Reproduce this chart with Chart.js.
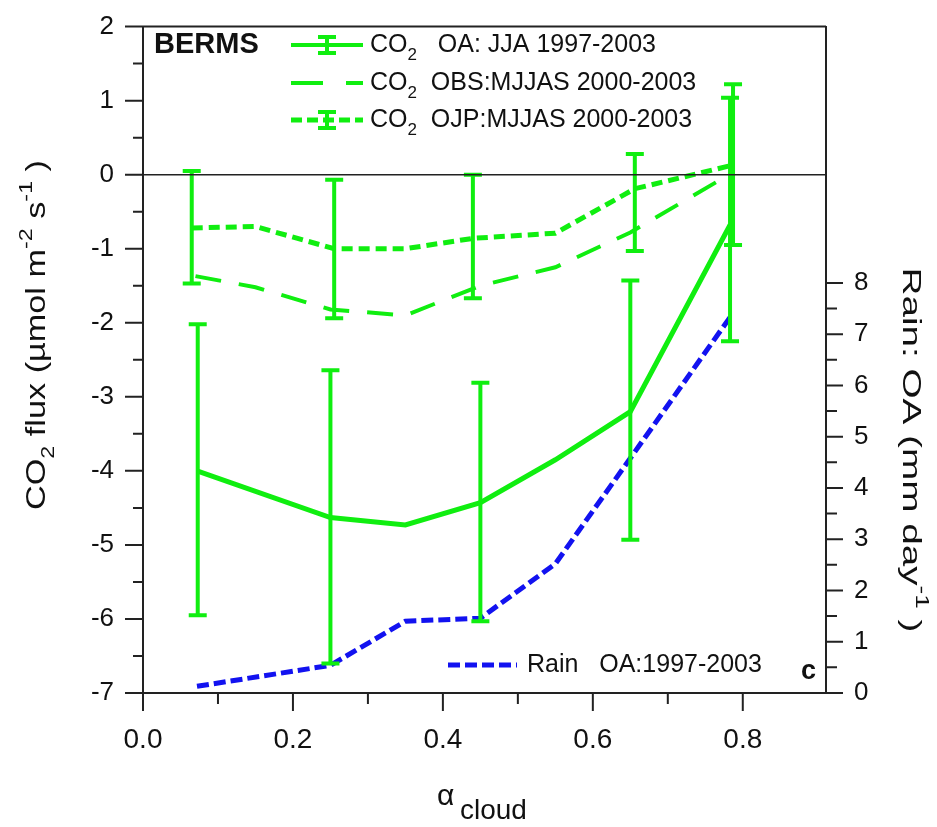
<!DOCTYPE html>
<html lang="en">
<head>
<meta charset="UTF-8">
<title>BERMS CO2 flux vs cloud fraction</title>
<script src="https://cdn.jsdelivr.net/npm/chart.js"></script>
<style>
  body { margin: 0; background: #fff; }
  canvas { display: block; }
</style>
</head>
<body>
<canvas id="chart" width="937" height="827"></canvas>
<script>
// --- data ---
const cloudOA = [0.072, 0.25, 0.35, 0.45, 0.55, 0.65, 0.783];
const fluxOA = [-4.0, -4.63, -4.73, -4.43, -3.85, -3.2, -0.68];
const barXOA = [0.073, 0.25, 0.45, 0.65, 0.783];
const barLowOA = [-5.95, -6.6, -6.03, -4.93, -2.25];
const barHighOA = [-2.02, -2.64, -2.81, -1.43, 1.04];

const cloudObs = [0.07, 0.15, 0.25, 0.35, 0.45, 0.55, 0.65, 0.785];
const fluxObs = [-1.37, -1.52, -1.82, -1.9, -1.5, -1.25, -0.78, 0.02];

const cloudOjp = [0.065, 0.15, 0.255, 0.35, 0.44, 0.55, 0.656, 0.787];
const fluxOjp = [-0.72, -0.7, -1.0, -1.0, -0.86, -0.79, -0.19, 0.13];
const barXOjp = [0.065, 0.255, 0.44, 0.656, 0.787];
const barLowOjp = [-1.47, -1.94, -1.67, -1.03, -0.95];
const barHighOjp = [0.05, -0.07, 0.0, 0.28, 1.22];

const cloudRain = [0.072, 0.25, 0.35, 0.45, 0.55, 0.65, 0.785];
const rainOA = [0.13, 0.54, 1.4, 1.46, 2.52, 4.58, 7.37];

const xTickLabels = ['0.0', '0.2', '0.4', '0.6', '0.8'];
const yTickLabels = ['-7', '-6', '-5', '-4', '-3', '-2', '-1', '0', '1', '2'];
const rainTickLabels = ['0', '1', '2', '3', '4', '5', '6', '7', '8'];

const GREEN = '#10ee10';
const BLUE = '#1212f0';
const FONT = "'Liberation Sans', Arial, sans-serif";
const INK = '#111';

function pts(xs, ys) {
    return xs.map((x, i) => ({ x: x, y: ys[i] }));
}

// text made of normal / sub / sup pieces
function richWidth(ctx, segs, size) {
    let w = 0;
    segs.forEach(s => {
        const fs = s.k ? size * 0.68 : size;
        ctx.font = (s.bold ? 'bold ' : '') + fs + 'px ' + FONT;
        w += ctx.measureText(s.t).width;
    });
    return w;
}
function drawRich(ctx, segs, x, y, size) {
    ctx.textBaseline = 'middle';
    ctx.textAlign = 'left';
    segs.forEach(s => {
        const fs = s.k ? size * 0.68 : size;
        ctx.font = (s.bold ? 'bold ' : '') + fs + 'px ' + FONT;
        let dy = 0;
        if (s.k === 'sub') dy = size * 0.4;
        if (s.k === 'sup') dy = -size * 0.42;
        ctx.fillText(s.t, x, y + dy);
        x += ctx.measureText(s.t).width;
    });
    return x;
}
function drawTitle(ctx, segs, cx, cy, size, angle, length) {
    const w = richWidth(ctx, segs, size);
    const stretch = length / w;
    ctx.save();
    ctx.translate(cx, cy);
    ctx.rotate(angle);
    ctx.scale(stretch, 1);
    ctx.fillStyle = INK;
    drawRich(ctx, segs, -w / 2, 0, size);
    ctx.restore();
}

function errorBar(ctx, x, yTop, yBot, cap) {
    ctx.beginPath();
    ctx.moveTo(x, yTop); ctx.lineTo(x, yBot);
    ctx.moveTo(x - cap / 2, yTop); ctx.lineTo(x + cap / 2, yTop);
    ctx.moveTo(x - cap / 2, yBot); ctx.lineTo(x + cap / 2, yBot);
    ctx.stroke();
}

function isLabel(list, v, digits) {
    const s = v.toFixed(digits);
    return list.indexOf(s === '-0' ? '0' : s) >= 0;
}

const figurePlugin = {
    id: 'figure',
    afterDatasetsDraw(chart) {
        const ctx = chart.ctx;
        const sx = chart.scales.x, sy = chart.scales.y;
        ctx.save();
        ctx.strokeStyle = GREEN;
        ctx.lineWidth = 4;
        ctx.setLineDash([]);
        barXOA.forEach((x, i) => {
            errorBar(ctx, sx.getPixelForValue(x), sy.getPixelForValue(barHighOA[i]), sy.getPixelForValue(barLowOA[i]), 18);
        });
        barXOjp.forEach((x, i) => {
            errorBar(ctx, sx.getPixelForValue(x), sy.getPixelForValue(barHighOjp[i]), sy.getPixelForValue(barLowOjp[i]), 18);
        });
        ctx.restore();
    },
    afterDraw(chart) {
        const ctx = chart.ctx;
        const a = chart.chartArea;
        const sx = chart.scales.x, sy = chart.scales.y, sr = chart.scales.y2;
        ctx.save();
        ctx.strokeStyle = '#222';
        ctx.lineWidth = 2;
        ctx.setLineDash([]);
        // frame top + zero line
        ctx.beginPath();
        ctx.moveTo(a.left, a.top); ctx.lineTo(a.right, a.top);
        ctx.stroke();
        ctx.lineWidth = 1.5;
        ctx.beginPath();
        const y0 = sy.getPixelForValue(0);
        ctx.moveTo(a.left, y0); ctx.lineTo(a.right, y0);
        ctx.stroke();

        // tick marks, pointing outward
        ctx.lineWidth = 2;
        ctx.beginPath();
        sx.ticks.forEach(t => {
            const v = t.value;
            if (Math.abs(v * 10 - Math.round(v * 10)) > 1e-6) return;
            const len = isLabel(xTickLabels, v, 1) ? 18 : 11;
            const px = sx.getPixelForValue(v);
            ctx.moveTo(px, a.bottom); ctx.lineTo(px, a.bottom + len);
        });
        sy.ticks.forEach(t => {
            const v = t.value;
            const len = Number.isInteger(v) ? 18 : 10;
            const py = sy.getPixelForValue(v);
            ctx.moveTo(a.left, py); ctx.lineTo(a.left - len, py);
        });
        sr.ticks.forEach(t => {
            const v = t.value;
            if (v > 8) return;
            const len = Number.isInteger(v) ? 17 : 11;
            const py = sr.getPixelForValue(v);
            ctx.moveTo(a.right, py); ctx.lineTo(a.right + len, py);
        });
        ctx.stroke();

        // axis titles
        drawTitle(ctx, [{ t: 'CO' }, { t: '2', k: 'sub' }, { t: ' flux (\u00b5mol m' }, { t: '-2', k: 'sup' },
            { t: ' s' }, { t: '-1', k: 'sup' }, { t: ' )' }], 38, 335, 27, -Math.PI / 2, 350);
        drawTitle(ctx, [{ t: 'Rain: OA (mm day' }, { t: '-1', k: 'sup' }, { t: ' )' }], 910, 450, 26, Math.PI / 2, 365);
        ctx.fillStyle = INK;
        ctx.textBaseline = 'middle';
        ctx.textAlign = 'left';
        ctx.font = '30px ' + FONT;
        ctx.fillText('\u03b1', 437, 797);
        ctx.font = '28px ' + FONT;
        ctx.fillText('cloud', 460, 811);

        // legend
        ctx.font = 'bold 29px ' + FONT;
        ctx.fillText('BERMS', 154, 45);
        const rows = [45, 83, 120];
        const lx0 = 291, lx1 = 363, lmid = 327;
        ctx.lineWidth = 4;
        ctx.strokeStyle = GREEN;
        // OA
        ctx.setLineDash([]);
        ctx.beginPath(); ctx.moveTo(lx0, rows[0]); ctx.lineTo(lx1, rows[0]); ctx.stroke();
        errorBar(ctx, lmid, rows[0] - 8, rows[0] + 8, 18);
        // OBS
        ctx.setLineDash([32, 23]);
        ctx.beginPath(); ctx.moveTo(lx0, rows[1]); ctx.lineTo(lx1, rows[1]); ctx.stroke();
        // OJP
        ctx.setLineDash([11, 5]);
        ctx.lineWidth = 5;
        ctx.beginPath(); ctx.moveTo(lx0, rows[2]); ctx.lineTo(lx1, rows[2]); ctx.stroke();
        ctx.setLineDash([]);
        ctx.lineWidth = 4;
        errorBar(ctx, lmid, rows[2] - 8, rows[2] + 8, 18);
        ctx.fillStyle = INK;
        const legendText = [
            [{ t: 'CO' }, { t: '2', k: 'sub' }, { t: '   OA: JJA 1997-2003' }],
            [{ t: 'CO' }, { t: '2', k: 'sub' }, { t: '  OBS:MJJAS 2000-2003' }],
            [{ t: 'CO' }, { t: '2', k: 'sub' }, { t: '  OJP:MJJAS 2000-2003' }]
        ];
        legendText.forEach((segs, i) => drawRich(ctx, segs, 370, rows[i], 25));

        // rain legend
        ctx.strokeStyle = BLUE;
        ctx.lineWidth = 5;
        ctx.setLineDash([12, 5]);
        ctx.beginPath(); ctx.moveTo(448, 665); ctx.lineTo(517, 665); ctx.stroke();
        ctx.setLineDash([]);
        drawRich(ctx, [{ t: 'Rain   OA:1997-2003' }], 527, 665, 25);
        ctx.font = 'bold 27px ' + FONT;
        ctx.fillText('c', 801, 672);
        ctx.restore();
    }
};

const tickFont = { family: FONT, size: 26 };

new Chart(document.getElementById('chart'), {
    type: 'scatter',
    data: {
        datasets: [
            {
                label: 'Rain OA:1997-2003',
                data: pts(cloudRain, rainOA),
                yAxisID: 'y2',
                showLine: true,
                borderColor: BLUE,
                borderWidth: 5,
                borderDash: [12, 5],
                pointRadius: 0
            },
            {
                label: 'CO2 OBS:MJJAS 2000-2003',
                data: pts(cloudObs, fluxObs),
                yAxisID: 'y',
                showLine: true,
                borderColor: GREEN,
                borderWidth: 4,
                borderDash: [26, 18],
                pointRadius: 0
            },
            {
                label: 'CO2 OJP:MJJAS 2000-2003',
                data: pts(cloudOjp, fluxOjp),
                yAxisID: 'y',
                showLine: true,
                borderColor: GREEN,
                borderWidth: 5,
                borderDash: [11, 6],
                pointRadius: 0
            },
            {
                label: 'CO2 OA: JJA 1997-2003',
                data: pts(cloudOA, fluxOA),
                yAxisID: 'y',
                showLine: true,
                borderColor: GREEN,
                borderWidth: 5,
                pointRadius: 0
            }
        ]
    },
    options: {
        responsive: false,
        animation: false,
        layout: { padding: { top: 18, left: 0, right: 0, bottom: 0 } },
        plugins: { legend: { display: false }, tooltip: { enabled: false } },
        scales: {
            x: {
                type: 'linear',
                position: 'bottom',
                min: 0,
                max: 0.911,
                afterFit: s => { s.height = 134; },
                grid: { display: true, drawOnChartArea: false, drawTicks: true, tickLength: 18, tickColor: 'rgba(0,0,0,0)' },
                border: { display: true, color: '#222', width: 2 },
                ticks: {
                    stepSize: 0.1,
                    autoSkip: false,
                    maxRotation: 0,
                    padding: 12,
                    color: INK,
                    font: { family: FONT, size: 28 },
                    callback: v => isLabel(xTickLabels, v, 1) ? v.toFixed(1) : ''
                }
            },
            y: {
                type: 'linear',
                position: 'left',
                min: -7,
                max: 2,
                afterFit: s => { s.width = 143; },
                grid: { display: true, drawOnChartArea: false, drawTicks: true, tickLength: 18, tickColor: 'rgba(0,0,0,0)' },
                border: { display: true, color: '#222', width: 2 },
                ticks: {
                    stepSize: 0.5,
                    autoSkip: false,
                    padding: 11,
                    color: INK,
                    font: tickFont,
                    callback: v => Number.isInteger(v) && isLabel(yTickLabels, v, 0) ? String(v) : ''
                }
            },
            y2: {
                type: 'linear',
                position: 'right',
                min: 0,
                max: 13,
                afterFit: s => { s.width = 111; },
                grid: { display: true, drawOnChartArea: false, drawTicks: true, tickLength: 17, tickColor: 'rgba(0,0,0,0)' },
                border: { display: true, color: '#222', width: 2 },
                ticks: {
                    stepSize: 0.5,
                    autoSkip: false,
                    padding: 11,
                    color: INK,
                    font: tickFont,
                    callback: v => Number.isInteger(v) && isLabel(rainTickLabels, v, 0) ? String(v) : ''
                }
            }
        }
    },
    plugins: [figurePlugin]
});
</script>
</body>
</html>
